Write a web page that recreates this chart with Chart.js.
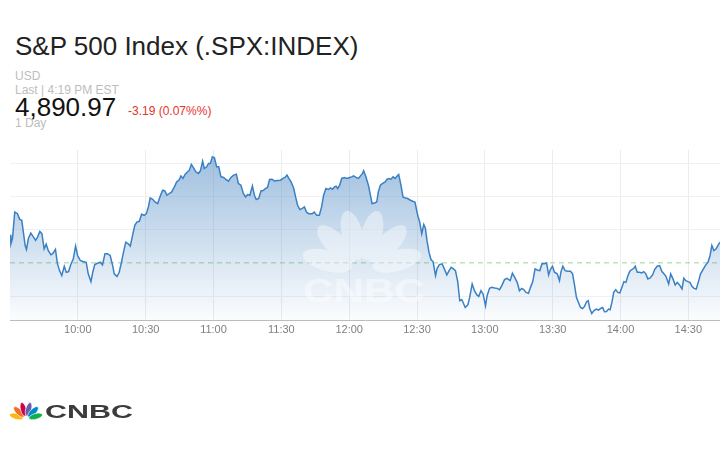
<!DOCTYPE html>
<html>
<head>
<meta charset="utf-8">
<script src="https://cdn.jsdelivr.net/npm/chart.js@4.4.1/dist/chart.umd.min.js"></script>
<style>
  body { margin: 0; width: 720px; height: 450px; background: #fff; position: relative; overflow: hidden;
         font-family: "Liberation Sans", Arial, sans-serif; }
  .t { position: absolute; white-space: nowrap; line-height: 1; }
  #title { left: 15px; top: 32.8px; font-size: 26px; color: #222; }
  #usd { left: 15px; top: 70px; font-size: 12px; color: #bdbdbd; }
  #last { left: 15px; top: 83.5px; font-size: 12px; color: #bdbdbd; }
  #price { left: 15px; top: 94px; font-size: 26px; color: #111; }
  #change { left: 128px; top: 105px; font-size: 12px; color: #e4322b; }
  #range { left: 15px; top: 116.5px; font-size: 12px; color: #bdbdbd; }
  #chart { position: absolute; left: 0; top: 150px; }
  svg { position: absolute; left: 0; top: 0; pointer-events: none; }
</style>
</head>
<body>
<div class="t" id="title">S&amp;P 500 Index (.SPX:INDEX)</div>
<div class="t" id="usd">USD</div>
<div class="t" id="last">Last | 4:19 PM EST</div>
<div class="t" id="price">4,890.97</div>
<div class="t" id="change">-3.19 (0.07%%)</div>
<div class="t" id="range">1 Day</div>
<canvas id="chart" width="720" height="190"></canvas>
<svg id="marks" width="720" height="450"></svg>
<script>
// minutes after the 9:30 open
const times = [
  0, 0.4, 1.1, 2.1, 3.3, 4.3, 5.2, 6.0, 6.7, 7.3, 8.1, 9.2, 10.4, 11.3, 12.2, 13.2, 14.1, 15.1, 16.0, 16.9,
  18.1, 18.9, 20.1, 21.0, 21.9, 22.9, 24.0, 24.9, 25.9, 26.9, 28.0, 29.0, 29.9, 31.1, 32.2, 33.7, 34.6, 35.8, 36.6, 37.5,
  38.7, 39.9, 40.9, 42.0, 43.1, 44.3, 45.4, 46.1, 47.3, 48.3, 49.3, 50.2, 51.2, 52.3, 53.2, 54.2, 55.2, 56.1, 57.2, 58.2,
  59.4, 60.3, 61.2, 62.0, 63.1, 64.1, 65.3, 66.3, 67.5, 68.5, 69.4, 70.5, 71.5, 72.7, 73.7, 74.9, 75.6, 76.5, 77.4, 78.6,
  79.3, 80.2, 81.2, 82.2, 83.3, 84.2, 85.2, 85.9, 87.0, 87.8, 88.6, 89.5, 90.4, 91.4, 92.3, 93.3, 94.5, 95.5, 96.6, 97.7,
  98.9, 100.1, 101.0, 102.1, 103.2, 104.2, 105.1, 106.1, 107.2, 108.1, 108.9, 110.0, 111.0, 112.0, 112.9, 113.9, 114.8, 115.9, 116.9, 118.4,
  119.6, 120.7, 121.6, 122.5, 123.2, 124.3, 125.5, 126.3, 127.2, 128.2, 129.1, 130.2, 131.1, 132.1, 133.7, 134.6, 135.6, 136.8, 137.8, 138.7,
  139.7, 140.8, 141.7, 142.6, 143.5, 144.2, 144.9, 145.8, 146.7, 147.9, 149.0, 150.2, 151.1, 152.0, 153.0, 154.1, 155.0, 155.9, 156.4, 157.4,
  158.5, 159.4, 160.1, 161.2, 162.2, 162.9, 163.8, 164.8, 165.9, 166.7, 167.5, 168.5, 169.4, 170.3, 171.2, 171.9, 172.9, 173.8, 174.9, 175.9,
  177.1, 178.1, 179.1, 180.3, 181.2, 182.1, 183.0, 183.7, 184.4, 185.3, 186.2, 187.1, 188.2, 188.9, 189.9, 191.1, 192.1, 193.2, 194.2, 195.1,
  196.1, 197.0, 198.0, 198.9, 199.8, 200.4, 201.3, 202.5, 203.3, 204.4, 205.4, 206.4, 207.3, 208.3, 209.2, 210.3, 211.0, 212.1, 213.1, 214.3,
  215.4, 216.5, 217.5, 218.7, 219.8, 221.2, 222.2, 223.2, 224.3, 225.3, 226.3, 227.2, 228.2, 229.3, 230.2, 231.2, 232.2, 233.4, 234.3, 235.3,
  236.4, 237.3, 238.2, 239.0, 239.9, 240.8, 242.0, 243.0, 243.7, 244.5, 245.5, 246.7, 247.9, 248.8, 249.7, 250.5, 251.4, 252.3, 253.2, 254.1,
  255.0, 255.7, 256.4, 257.3, 258.2, 259.2, 260.3, 261.2, 262.1, 262.9, 263.8, 264.7, 265.4, 266.2, 267.0, 267.9, 268.8, 269.7, 270.6, 271.5,
  272.4, 273.2, 274.1, 275.0, 275.9, 276.5, 277.4, 278.4, 279.4, 280.3, 281.2, 282.1, 283.1, 284.2, 285.1, 286.2, 287.3, 288.3, 289.2, 290.1,
  291.3, 292.2, 293.2, 294.2, 295.1, 296.1, 297.2, 298.0, 298.9, 299.8, 300.7, 301.6, 302.5, 303.5, 304.6, 305.4, 306.5, 307.5, 308.7, 309.6,
  310.4, 311.3, 312.3, 313.1, 314.0
];
const prices = [
  4898.40, 4897.04, 4897.80, 4901.83, 4901.58, 4900.72, 4900.57, 4898.56, 4896.78, 4896.18, 4897.80, 4898.65, 4898.04, 4897.54, 4898.04, 4898.90, 4898.56, 4896.28, 4896.98, 4896.02,
  4895.37, 4895.53, 4896.18, 4894.01, 4892.99, 4892.24, 4893.65, 4892.74, 4892.84, 4893.90, 4894.77, 4896.68, 4895.27, 4894.51, 4894.36, 4894.25, 4892.50, 4891.33, 4892.74, 4893.90,
  4894.10, 4894.25, 4893.86, 4895.53, 4895.53, 4895.27, 4893.75, 4892.50, 4892.09, 4892.74, 4894.25, 4895.77, 4897.28, 4897.04, 4896.68, 4898.30, 4899.81, 4900.31, 4900.42, 4901.48,
  4901.33, 4901.58, 4902.59, 4903.95, 4903.75, 4903.34, 4903.10, 4904.10, 4905.11, 4905.01, 4904.36, 4904.62, 4904.86, 4905.61, 4906.37, 4906.74, 4907.28, 4906.89, 4907.49, 4907.89,
  4908.14, 4909.01, 4908.49, 4907.89, 4907.65, 4908.04, 4909.51, 4908.40, 4908.64, 4909.16, 4909.16, 4910.16, 4910.01, 4908.64, 4908.64, 4907.13, 4907.04, 4906.74, 4906.48, 4907.04,
  4907.39, 4907.54, 4906.13, 4905.87, 4904.62, 4904.10, 4904.46, 4904.36, 4905.77, 4904.36, 4903.71, 4903.86, 4905.01, 4905.07, 4905.37, 4905.52, 4906.74, 4906.78, 4906.52, 4906.58,
  4906.63, 4906.89, 4907.04, 4907.39, 4906.98, 4906.37, 4905.37, 4904.10, 4902.84, 4902.19, 4902.34, 4902.59, 4901.83, 4901.58, 4901.58, 4901.83, 4901.33, 4901.33, 4902.59, 4904.36,
  4905.37, 4905.22, 4905.46, 4905.27, 4905.61, 4905.72, 4905.37, 4905.87, 4906.89, 4907.04, 4906.89, 4907.04, 4907.13, 4907.28, 4907.04, 4906.89, 4907.28, 4907.65, 4908.04, 4907.13,
  4905.87, 4904.36, 4903.10, 4903.19, 4903.34, 4904.86, 4905.87, 4906.13, 4906.37, 4906.74, 4906.89, 4906.78, 4907.13, 4906.89, 4907.24, 4907.49, 4905.87, 4904.10, 4903.95, 4903.86,
  4903.60, 4903.45, 4903.34, 4901.33, 4900.31, 4898.56, 4899.96, 4899.40, 4897.54, 4895.77, 4894.62, 4894.36, 4892.24, 4893.34, 4893.90, 4894.01, 4893.25, 4892.34, 4892.99, 4893.49,
  4893.25, 4892.99, 4891.33, 4888.45, 4888.60, 4888.19, 4887.43, 4887.84, 4888.95, 4890.98, 4889.96, 4889.36, 4889.10, 4889.96, 4889.47, 4887.69, 4889.21, 4890.31, 4890.46, 4890.37,
  4890.31, 4890.12, 4890.72, 4891.63, 4891.83, 4891.48, 4892.59, 4891.98, 4891.22, 4889.96, 4890.31, 4890.12, 4889.71, 4889.56, 4890.46, 4891.33, 4893.25, 4893.04, 4892.99, 4894.01,
  4894.01, 4894.16, 4892.34, 4893.15, 4893.65, 4892.74, 4892.50, 4891.48, 4892.84, 4893.65, 4892.99, 4892.89, 4892.89, 4892.50, 4890.72, 4888.95, 4888.19, 4887.43, 4887.28, 4887.59,
  4888.30, 4888.45, 4887.28, 4886.53, 4886.93, 4887.19, 4887.04, 4887.28, 4887.43, 4886.78, 4886.83, 4887.19, 4887.09, 4888.19, 4889.71, 4890.12, 4889.71, 4889.62, 4890.46, 4891.33,
  4891.22, 4892.13, 4892.89, 4893.15, 4893.34, 4893.65, 4892.74, 4892.74, 4892.65, 4892.84, 4892.50, 4891.74, 4891.89, 4892.34, 4893.15, 4893.65, 4893.75, 4892.84, 4892.50, 4892.13,
  4890.98, 4892.50, 4891.74, 4890.83, 4891.22, 4890.83, 4890.22, 4891.83, 4891.48, 4891.33, 4891.22, 4890.62, 4890.31, 4890.22, 4891.48, 4892.50, 4893.15, 4893.75, 4894.25, 4895.27,
  4896.78, 4896.02, 4896.28, 4896.78, 4897.28
];
const prevClose = 4894.16;
const openMinute = 9 * 60 + 30;
const tickMinutes = [30, 60, 90, 120, 150, 180, 210, 240, 270, 300];
const gridSteps = [-1, 1, 2, 3];   // price grid every 5 points around previous close

function timeLabel(v) {
  const t = openMinute + v;
  return Math.floor(t / 60) + ':' + String(t % 60).padStart(2, '0');
}

const ctx = document.getElementById('chart').getContext('2d');
new Chart(ctx, {
  type: 'line',
  data: {
    datasets: [{
      data: times.map((t, i) => ({ x: t, y: prices[i] })),
      borderColor: 'rgb(58,128,196)',
      borderWidth: 1.5,
      pointRadius: 0,
      tension: 0,
      fill: 'start',
      backgroundColor: (c) => {
        const area = c.chart.chartArea;
        if (!area) return 'rgba(90,145,200,0.3)';
        const g = c.chart.ctx.createLinearGradient(0, area.top, 0, area.bottom);
        g.addColorStop(0, 'rgba(90,145,200,0.6)');
        g.addColorStop(1, 'rgba(90,145,200,0.02)');
        return g;
      },
      order: 1
    }, {
      data: [{ x: 0, y: prevClose }, { x: 314, y: prevClose }],
      borderColor: '#9ed39a',
      borderWidth: 1,
      borderDash: [5, 4],
      pointRadius: 0,
      fill: false,
      order: 2
    }]
  },
  options: {
    responsive: false,
    animation: false,
    devicePixelRatio: 1,
    layout: { padding: { left: 10, right: 0, top: 0, bottom: 0 } },
    plugins: { legend: { display: false }, tooltip: { enabled: false } },
    scales: {
      x: {
        type: 'linear',
        min: 0,
        max: 314,
        afterBuildTicks: (s) => { s.ticks = tickMinutes.map(v => ({ value: v })); },
        ticks: {
          callback: (v) => timeLabel(v),
          color: '#808080',
          font: { family: '"Liberation Sans", Arial, sans-serif', size: 11 },
          padding: 3,
          maxRotation: 0
        },
        grid: { color: '#ececec', drawTicks: false },
        border: { color: '#bcbcbc' }
      },
      y: {
        min: 4885.42,
        max: 4911.18,
        afterBuildTicks: (s) => { s.ticks = gridSteps.map(k => ({ value: prevClose + 5 * k })); },
        ticks: { display: false },
        grid: { color: '#f0f0f0', drawTicks: false },
        border: { display: false }
      }
    }
  }
});

// CNBC peacock marks: footer logo and faint watermark over the plot
const featherColors = ['#fcb711', '#f37021', '#cc004c', '#6460aa', '#0089d0', '#0db14b'];
function peacock(cx, cy, s, colors, extra) {
  let out = '';
  for (let i = 0; i < 6; i++) {
    const a = -75 + 30 * i;
    const r = a * Math.PI / 180;
    const x = cx + 10 * s * Math.sin(r);
    const y = cy - 10 * s * Math.cos(r);
    out += `<ellipse cx="${x}" cy="${y}" rx="${2.9 * s}" ry="${7 * s}" transform="rotate(${a} ${x} ${y})" fill="${colors[i]}" ${extra}/>`;
  }
  return out;
}
const white = new Array(6).fill('#fff');
document.getElementById('marks').innerHTML =
  `<g opacity="0.42">${peacock(362, 270, 3.6, white, '')}` +
  `<text x="303" y="302" font-family="Liberation Sans, Arial" font-weight="bold" font-size="34" fill="#fff" textLength="122" lengthAdjust="spacingAndGlyphs">CNBC</text></g>` +
  peacock(26, 419, 1, featherColors, 'stroke="#fff" stroke-width="0.6"') +
  `<text x="45" y="418" font-family="Liberation Sans, Arial" font-weight="bold" font-size="18" fill="#3b3b3b" textLength="88" lengthAdjust="spacingAndGlyphs">CNBC</text>`;
</script>
</body>
</html>
